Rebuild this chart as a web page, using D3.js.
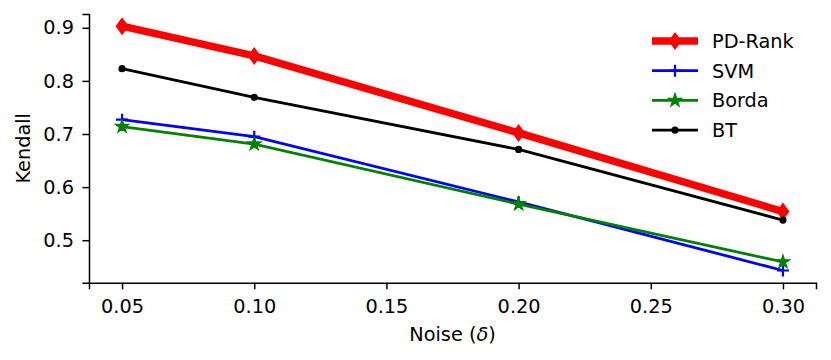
<!DOCTYPE html>
<html>
<head>
<meta charset="utf-8" />
<title>Kendall vs Noise</title>
<style>
    body { margin: 0; background: #fff; }
    text { font-family: "DejaVu Sans", sans-serif; }
</style>
</head>
<body>
<div id="container"></div>
<script src="https://cdn.jsdelivr.net/npm/d3@7"></script>
<script>
    const noise = [0.05, 0.10, 0.20, 0.30]
    const xTicks = [0.05, 0.10, 0.15, 0.20, 0.25, 0.30]
    const yTicks = [0.5, 0.6, 0.7, 0.8, 0.9]
    const pdRank = [0.903, 0.847, 0.702, 0.554]
    const svm = [0.727, 0.695, 0.572, 0.443]
    const borda = [0.714, 0.681, 0.568, 0.459]
    const bt = [0.823, 0.769, 0.671, 0.538]

    const series = [
        { name: 'PD-Rank', values: pdRank, color: '#ff0000', width: 7.5, marker: 'thinDiamond' },
        { name: 'SVM', values: svm, color: '#0000ff', width: 2.8, marker: 'plus' },
        { name: 'Borda', values: borda, color: '#008000', width: 2.8, marker: 'star' },
        { name: 'BT', values: bt, color: '#000000', width: 2.8, marker: 'dot' }
    ]

    const W = 831, H = 360
    const plotL = 89, plotR = 816, plotT = 14, plotB = 282.7
    const fs = 19.3

    const svg = d3.select('#container').append('svg').attr('width', W).attr('height', H)

    // matplotlib-like 5% margins
    const allY = [].concat(pdRank, svm, borda, bt)
    const xPad = (d3.max(noise) - d3.min(noise)) * 0.05
    const yPad = (d3.max(allY) - d3.min(allY)) * 0.05
    const x = d3.scaleLinear().domain([d3.min(noise) - xPad, d3.max(noise) + xPad]).range([plotL, plotR])
    const y = d3.scaleLinear().domain([d3.min(allY) - yPad, d3.max(allY) + yPad]).range([plotB, plotT])

    const axisX = d3.axisBottom(x).tickValues(xTicks).tickFormat(d3.format('.2f')).tickSizeOuter(0).tickSize(6.6).tickPadding(10)
    const axisY = d3.axisLeft(y).tickValues(yTicks).tickFormat(d3.format('.1f')).tickSizeOuter(0).tickSize(6.6).tickPadding(8.4)

    const gx = svg.append('g').attr('transform', `translate(0, ${plotB})`).call(axisX)
    const gy = svg.append('g').attr('transform', `translate(${plotL}, 0)`).call(axisY)
    for (const g of [gx, gy]) {
        g.selectAll('path, line').attr('stroke', '#000').attr('stroke-width', 1.5)
        g.selectAll('text').attr('font-size', fs).attr('fill', '#000').attr('font-family', '"DejaVu Sans", sans-serif')
    }

    const xl = svg.append('text').attr('x', (plotL + plotR) / 2).attr('y', 341).attr('text-anchor', 'middle').attr('font-size', fs)
    xl.append('tspan').text('Noise (')
    xl.append('tspan').attr('font-style', 'italic').text('δ')
    xl.append('tspan').text(')')

    svg.append('text').attr('transform', `translate(30, ${(plotT + plotB) / 2}) rotate(-90)`)
        .attr('text-anchor', 'middle').attr('font-size', fs).text('Kendall')

    function drawMarker(g, type, cx, cy, color) {
        if (type === 'thinDiamond') {
            g.append('path').attr('d', `M${cx},${cy - 9}L${cx + 6.5},${cy}L${cx},${cy + 9}L${cx - 6.5},${cy}Z`).attr('fill', color)
        } else if (type === 'plus') {
            g.append('path').attr('d', `M${cx - 6},${cy}H${cx + 6}M${cx},${cy - 6}V${cy + 6}`).attr('stroke', color).attr('stroke-width', 2.2)
        } else if (type === 'star') {
            g.append('path').attr('d', d3.symbol(d3.symbolStar, 55)()).attr('transform', `translate(${cx},${cy})`).attr('fill', color).attr('stroke', color).attr('stroke-width', 1.2)
        } else {
            g.append('circle').attr('cx', cx).attr('cy', cy).attr('r', 3.6).attr('fill', color)
        }
    }

    const line = d3.line().x((d, i) => x(noise[i])).y(d => y(d))
    for (const s of series) {
        const g = svg.append('g')
        g.append('path').attr('d', line(s.values)).attr('fill', 'none').attr('stroke', s.color)
            .attr('stroke-width', s.width).attr('stroke-linejoin', 'round')
        s.values.forEach((v, i) => drawMarker(g, s.marker, x(noise[i]), y(v), s.color))
    }

    // legend
    const lg = svg.append('g')
    series.forEach((s, i) => {
        const cy = 41 + i * 29.7
        lg.append('line').attr('x1', 652).attr('x2', 698).attr('y1', cy).attr('y2', cy)
            .attr('stroke', s.color).attr('stroke-width', s.width)
        drawMarker(lg, s.marker, 675, cy, s.color)
        lg.append('text').attr('x', 712).attr('y', cy + 7).attr('font-size', fs).text(s.name)
    })
</script>
</body>
</html>
